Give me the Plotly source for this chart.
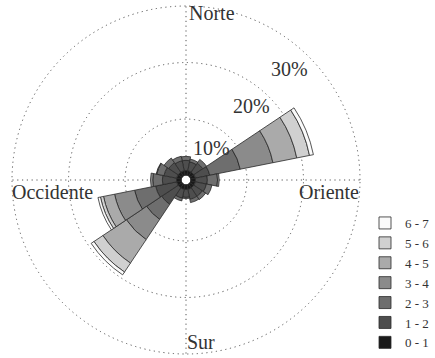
import plotly.graph_objects as go

directions = [0, 22.5, 45, 67.5, 90, 112.5, 135, 157.5, 180, 202.5, 225, 247.5, 270, 292.5, 315, 337.5]
classes = ["0 - 1", "1 - 2", "2 - 3", "3 - 4", "4 - 5", "5 - 6", "6 - 7"]
colors = ["#1a1a1a", "#4e4e4e", "#6e6e6e", "#8b8b8b", "#aaaaaa", "#d0d0d0", "#fafafa"]

# frequency (%) per speed class, per direction (N, NNE, ..., NNW)
s01 = [0.9, 0.9, 0.9, 0.9, 0.9, 0.9, 0.9, 0.9, 0.9, 0.9, 0.9, 0.9, 0.9, 0.9, 0.9, 0.9]
s12 = [1.8, 1.6, 1.9, 2.6, 2.1, 2.0, 1.8, 1.8, 1.4, 1.6, 3.5, 3.8, 2.5, 2.3, 2.0, 1.8]
s23 = [0.7, 0.5, 0.8, 5.5, 1.8, 1.0, 0.7, 0.6, 0.2, 0.5, 3.2, 3.8, 1.7, 1.3, 1.0, 0.8]
s34 = [0.0, 0.0, 0.0, 5.9, 0.3, 0.0, 0.0, 0.0, 0.0, 0.0, 4.3, 3.6, 0.4, 0.1, 0.0, 0.0]
s45 = [0.0, 0.0, 0.0, 4.3, 0.0, 0.0, 0.0, 0.0, 0.0, 0.0, 5.0, 2.0, 0.0, 0.0, 0.0, 0.0]
s56 = [0.0, 0.0, 0.0, 2.3, 0.0, 0.0, 0.0, 0.0, 0.0, 0.0, 1.9, 0.55, 0.0, 0.0, 0.0, 0.0]
s67 = [0.0, 0.0, 0.0, 0.7, 0.0, 0.0, 0.0, 0.0, 0.0, 0.0, 0.6, 0.45, 0.0, 0.0, 0.0, 0.0]
series = [s01, s12, s23, s34, s45, s56, s67]

ring_labels = ["10%", "20%", "30%"]
ring_values = [10, 20, 30]

FONT = "Liberation Serif"
W, H = 435, 358

fig = go.Figure()
for name, vals, col in zip(classes, series, colors):
    fig.add_trace(go.Barpolar(
        r=vals, theta=directions, width=[22.5] * len(directions),
        name=name, marker=dict(color=col, line=dict(color="#2a2a2a", width=0.8)),
    ))

# polar area: centre (186,180) px; 30 % ring at ~174 px
HOLE = 0.025
RMAX = 30.4
cx, cy = 186, 180
R = 174 / (HOLE + (1 - HOLE) * 30 / RMAX)
DOT = "1.2px,3.6px"
fig.update_layout(
    width=W, height=H,
    margin=dict(l=0, r=0, t=0, b=0),
    paper_bgcolor="white",
    font=dict(family=FONT, size=20, color="#333"),
    barmode="stack",
    polar=dict(
        domain=dict(x=[(cx - R) / W, (cx + R) / W], y=[(H - cy - R) / H, (H - cy + R) / H]),
        bgcolor="white",
        hole=HOLE,
        radialaxis=dict(range=[0, RMAX], tickvals=ring_values, showticklabels=False,
                        ticks="", showline=False, gridcolor="#555", griddash=DOT,
                        gridwidth=1.2, layer="above traces"),
        angularaxis=dict(direction="clockwise", rotation=90, tickvals=[0, 90, 180, 270],
                         showticklabels=False, ticks="", showline=False,
                         gridcolor="#555", griddash=DOT, gridwidth=1.2,
                         layer="above traces"),
    ),
    legend=dict(x=365 / W, y=0, xanchor="left", yanchor="bottom",
                traceorder="reversed", font=dict(family=FONT, size=13, color="#333"),
                bgcolor="rgba(0,0,0,0)", itemwidth=30),
    showlegend=True,
)

ann = []
ann.append(dict(text="Norte", x=187 / W, y=1 - 0 / H, xanchor="left", yanchor="top"))
ann.append(dict(text="Sur", x=185 / W, y=(H - 355) / H, xanchor="left", yanchor="bottom"))
ann.append(dict(text="Oriente", x=361 / W, y=1 - 179 / H, xanchor="right", yanchor="top"))
ann.append(dict(text="Occidente", x=10 / W, y=1 - 179 / H, xanchor="left", yanchor="top"))
label_pos = [(211, 148), (251, 106), (289, 69)]
for t, (px, py) in zip(ring_labels, label_pos):
    ann.append(dict(text=t, x=px / W, y=1 - py / H, xanchor="center", yanchor="middle"))
for a in ann:
    a.update(xref="paper", yref="paper", showarrow=False,
             font=dict(family=FONT, size=20, color="#333"))
fig.update_layout(annotations=ann)

fig.write_html("out.html")
